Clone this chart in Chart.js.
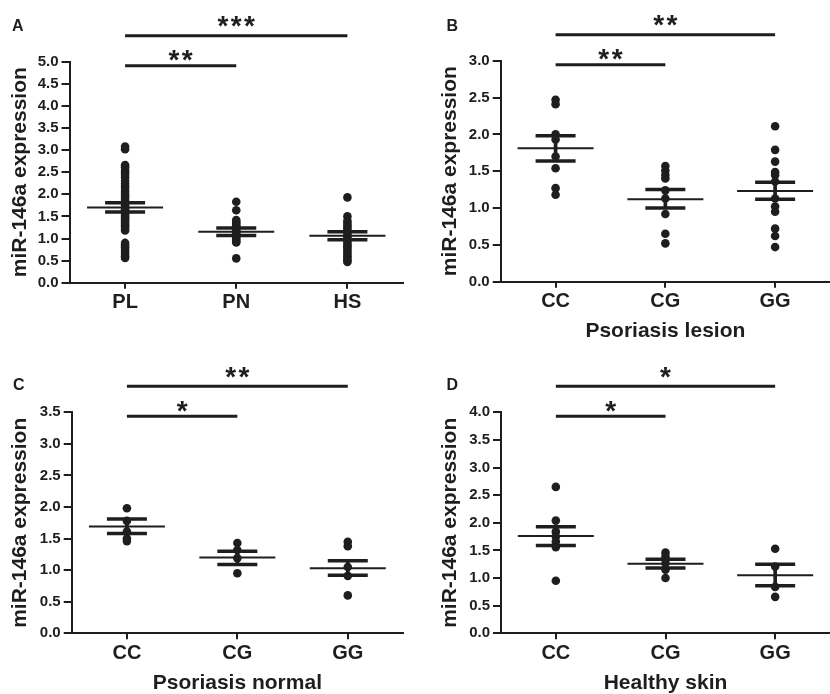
<!DOCTYPE html>
<html>
<head>
<meta charset="utf-8">
<script src="https://cdn.jsdelivr.net/npm/chart.js@4.4.1/dist/chart.umd.min.js"></script>
<style>
  body { margin: 0; background: #fff; width: 830px; height: 694px; position: relative; overflow: hidden; }
  canvas { position: absolute; }
</style>
</head>
<body>
<canvas id="panelA" width="415" height="347" style="left:0;top:0"></canvas>
<canvas id="panelB" width="415" height="347" style="left:415px;top:0"></canvas>
<canvas id="panelC" width="415" height="347" style="left:0;top:347px"></canvas>
<canvas id="panelD" width="415" height="347" style="left:415px;top:347px"></canvas>
<script>
const INK = "#1e1e1e";
const FONT = "'Liberation Sans', Arial, sans-serif";

// categories
const tissueLabels = ["PL", "PN", "HS"];
const genotypeLabels = ["CC", "CG", "GG"];
const yTitle = "miR-146a expression";
const yStep = 0.5;

// A: tissue type
const aPL = [3.08, 3.02, 2.66, 2.61, 2.55, 2.50, 2.44, 2.38, 2.30, 2.24, 2.18, 2.12, 2.06, 2.00, 1.95, 1.90,
  1.85, 1.80, 1.75, 1.70, 1.66, 1.62, 1.58, 1.54, 1.50, 1.46, 1.42, 1.38, 1.34, 1.30, 1.26, 1.22, 1.18,
  0.90, 0.85, 0.80, 0.75, 0.70, 0.65, 0.60, 0.56];
const aPN = [1.83, 1.64, 1.42, 1.38, 1.34, 1.30, 1.26, 1.22, 1.18, 1.14, 1.10, 1.06, 1.02, 0.98, 0.94, 0.91, 0.55];
const aHS = [1.93, 1.50, 1.40, 1.35, 1.30, 1.25, 1.20, 1.15, 1.10, 1.05, 1.00, 0.95, 0.90, 0.85, 0.80, 0.75,
  0.70, 0.65, 0.60, 0.55, 0.50, 0.47];
const aMean = [1.70, 1.15, 1.06];
const aSemLow = [1.60, 1.07, 0.97];
const aSemHigh = [1.81, 1.24, 1.15];
const aYMax = 5.0;
const aSig = [[0, 1, "**"], [0, 2, "***"]];

// B: psoriasis lesion
const bCC = [2.47, 2.41, 2.00, 1.93, 1.70, 1.54, 1.27, 1.18];
const bCG = [1.57, 1.51, 1.45, 1.40, 1.24, 1.13, 0.92, 0.65, 0.52];
const bGG = [2.11, 1.79, 1.63, 1.49, 1.45, 1.36, 1.13, 1.02, 0.95, 0.72, 0.62, 0.47];
const bMean = [1.81, 1.12, 1.23];
const bSemLow = [1.64, 1.00, 1.12];
const bSemHigh = [1.98, 1.25, 1.35];
const bYMax = 3.0;
const bSig = [[0, 1, "**"], [0, 2, "**"]];

// C: psoriasis normal
const cCC = [1.98, 1.78, 1.61, 1.50, 1.46];
const cCG = [1.43, 1.32, 1.19, 0.95];
const cGG = [1.45, 1.38, 1.05, 0.91, 0.60];
const cMean = [1.69, 1.20, 1.03];
const cSemLow = [1.58, 1.09, 0.92];
const cSemHigh = [1.81, 1.30, 1.15];
const cYMax = 3.5;
const cSig = [[0, 1, "*"], [0, 2, "**"]];

// D: healthy skin
const dCC = [2.65, 2.04, 1.84, 1.75, 1.66, 1.56, 0.95];
const dCG = [1.46, 1.39, 1.27, 1.15, 1.00];
const dGG = [1.53, 1.21, 0.84, 0.66];
const dMean = [1.76, 1.26, 1.05];
const dSemLow = [1.59, 1.18, 0.86];
const dSemHigh = [1.93, 1.34, 1.25];
const dYMax = 4.0;
const dSig = [[0, 1, "*"], [0, 2, "*"]];

function annotationPlugin(p) {
  return {
    id: "sigBars",
    afterDraw(chart) {
      const { ctx, chartArea, scales } = chart;
      ctx.save();
      ctx.fillStyle = INK;
      ctx.strokeStyle = INK;
      ctx.textBaseline = "alphabetic";
      ctx.textAlign = "left";
      ctx.font = `bold 16px ${FONT}`;
      ctx.fillText(p.letter, p.letterX, p.letterY);

      p.sig.forEach(([a, b, stars], level) => {
        const y = chartArea.top + (level === 0 ? 4 : -26);
        const x1 = scales.x.getPixelForValue(a);
        const x2 = scales.x.getPixelForValue(b);
        ctx.lineWidth = 3;
        ctx.beginPath();
        ctx.moveTo(x1, y);
        ctx.lineTo(x2, y);
        ctx.stroke();

        const cy = y - (level === 0 ? 11.7 : 16);
        const mid = (x1 + x2) / 2;
        ctx.font = `bold 28px ${FONT}`;
        ctx.textAlign = "center";
        for (let k = 0; k < stars.length; k++) {
          ctx.fillText("*", mid + (k - (stars.length - 1) / 2) * 13.3, cy + 15.4);
        }
        ctx.textAlign = "left";
      });
      ctx.restore();
    },
  };
}

function buildPanel(id, p) {
  const points = [];
  p.groups.forEach((vals, i) => vals.forEach((v) => points.push({ x: p.labels[i], y: v })));
  const means = p.labels.map((l, i) => ({ x: l, y: p.mean[i] }));
  const caps = p.labels.flatMap((l, i) => [{ x: l, y: p.semLow[i] }, { x: l, y: p.semHigh[i] }]);
  const whiskers = p.labels.map((l, i) => [p.semLow[i], p.semHigh[i]]);
  const box = p.box;

  return new Chart(document.getElementById(id), {
    type: "bar",
    data: {
      labels: p.labels,
      datasets: [
        { type: "line", data: means, showLine: false, pointStyle: "line", pointRadius: 38,
          pointBorderWidth: 2, borderColor: INK, clip: false },
        { type: "line", data: caps, showLine: false, pointStyle: "line", pointRadius: 20,
          pointBorderWidth: 3.5, borderColor: INK, clip: false },
        { type: "bar", data: whiskers, backgroundColor: INK, barThickness: 3 },
        { type: "line", data: points, showLine: false, pointStyle: "circle", pointRadius: 4.3,
          pointBorderWidth: 0, pointBackgroundColor: INK, borderColor: INK, clip: false },
      ],
    },
    options: {
      responsive: false,
      animation: false,
      events: [],
      layout: { autoPadding: false, padding: { left: 0, top: box.top, right: box.right, bottom: 0 } },
      plugins: { legend: { display: false }, tooltip: { enabled: false } },
      scales: {
        x: {
          type: "category",
          offset: true,
          grid: { display: true, drawOnChartArea: false, drawTicks: true, tickLength: 6,
            color: INK, lineWidth: 2, offset: false },
          border: { display: true, color: INK, width: 2 },
          ticks: { color: INK, padding: 2, maxRotation: 0,
            font: { family: FONT, size: 20, weight: "bold" } },
          title: {
            display: !!p.xTitle,
            text: p.xTitle || "",
            color: INK,
            font: { family: FONT, size: 21, weight: "bold", lineHeight: 1 },
            padding: { top: 0, bottom: p.xTitlePad },
          },
          afterFit: (s) => { s.height = box.h - box.bottom; },
        },
        y: {
          min: 0,
          max: p.yMax,
          grid: { display: true, drawOnChartArea: false, drawTicks: true, tickLength: 8,
            color: INK, lineWidth: 2 },
          border: { display: true, color: INK, width: 2 },
          ticks: { stepSize: yStep, color: INK, padding: 3,
            callback: (v) => v.toFixed(1),
            font: { family: FONT, size: 15, weight: "bold" } },
          title: {
            display: true,
            text: yTitle,
            color: INK,
            font: { family: FONT, size: 21, weight: "bold", lineHeight: 1 },
            padding: { top: p.yTitlePad, bottom: 0 },
          },
          afterFit: (s) => { s.width = box.left; },
        },
      },
    },
    plugins: [annotationPlugin(p)],
  });
}

buildPanel("panelA", {
  labels: tissueLabels, groups: [aPL, aPN, aHS], mean: aMean, semLow: aSemLow, semHigh: aSemHigh,
  yMax: aYMax, sig: aSig, letter: "A", letterX: 12, letterY: 31, xTitle: null, xTitlePad: 0, yTitlePad: 9.5,
  box: { left: 69.5, top: 61.7, right: 12, bottom: 282.7, h: 347 },
});
buildPanel("panelB", {
  labels: genotypeLabels, groups: [bCC, bCG, bGG], mean: bMean, semLow: bSemLow, semHigh: bSemHigh,
  yMax: bYMax, sig: bSig, letter: "B", letterX: 31.5, letterY: 31, xTitle: "Psoriasis lesion", xTitlePad: 4.8,
  yTitlePad: 24.5, box: { left: 85.7, top: 60.7, right: 0, bottom: 281.7, h: 347 },
});
buildPanel("panelC", {
  labels: genotypeLabels, groups: [cCC, cCG, cGG], mean: cMean, semLow: cSemLow, semHigh: cSemHigh,
  yMax: cYMax, sig: cSig, letter: "C", letterX: 13, letterY: 43, xTitle: "Psoriasis normal", xTitlePad: 0.5,
  yTitlePad: 9.5, box: { left: 71.7, top: 65.3, right: 12, bottom: 286.3, h: 347 },
});
buildPanel("panelD", {
  labels: genotypeLabels, groups: [dCC, dCG, dGG], mean: dMean, semLow: dSemLow, semHigh: dSemHigh,
  yMax: dYMax, sig: dSig, letter: "D", letterX: 31.5, letterY: 43, xTitle: "Healthy skin", xTitlePad: 0.5,
  yTitlePad: 24.5, box: { left: 86, top: 65.3, right: 0, bottom: 286.3, h: 347 },
});
</script>
</body>
</html>
